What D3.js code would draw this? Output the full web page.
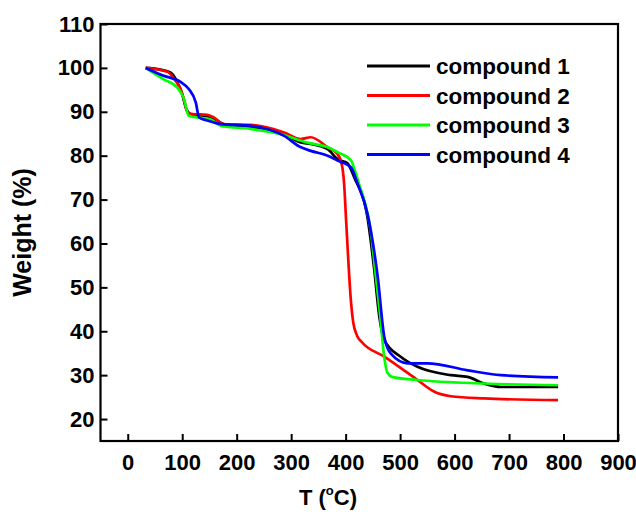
<!DOCTYPE html>
<html><head><meta charset="utf-8">
<script src="https://cdn.jsdelivr.net/npm/d3@7"></script>
<style>
body{margin:0;background:#fff}
text{font-family:Arial,"Liberation Sans",sans-serif;font-weight:bold;fill:#000}
</style>
</head><body>
<svg id="c" width="636" height="519"></svg>
<script>
const seriesNames = ["compound 1","compound 2","compound 3","compound 4"];
const seriesColors = ["#000000","#ff0000","#00ff00","#0000ff"];
const xTicks = [0,100,200,300,400,500,600,700,800,900];
const yTicks = [20,30,40,50,60,70,80,90,100,110];
const xDomain = [-50,900];
const yDomain = [15,110];

// [temperature °C, weight %]
const compound1 = [[33,100],[60,99.6],[79,98.9],[90,97],[100,94],[108,90.5],[118,89.3],[145,89],[160,88.3],[176,87.2],[226,86.4],[287,84.9],[318,83.0],[336,82.7],[367,81.5],[385,79.2],[403,78.3],[416,75],[440,66],[452,54.6],[462,43.2],[471,38],[501,34.2],[532,31.9],[593,30.0],[624,29.6],[654,28.1],[685,27.3],[790,27.3]];
const compound2 = [[33,100],[73,99.1],[88,97],[97,95.2],[103,92.9],[110,89.8],[119,89.5],[146,89.3],[158,88.7],[176,87.2],[226,87.0],[287,85.3],[318,83.8],[336,84.2],[367,81.9],[385,80.4],[393,78],[397,74],[401,65],[405,56],[409,48],[414,42],[421,39],[430,37.5],[471,34.2],[532,28.9],[563,26.2],[593,25.2],[654,24.7],[790,24.3]];
const compound3 = [[33,100],[66,97.4],[91,95.5],[103,93],[112,89.1],[128,88.7],[152,88.3],[171,86.8],[226,86.1],[287,84.7],[318,83.4],[336,82.8],[367,81.9],[385,80.8],[410,78.9],[416,77],[426,73],[436,69],[446,63],[455,53],[463,44],[471,34],[477,30.5],[485,29.6],[532,28.9],[654,28.1],[790,27.7]];
const compound4 = [[33,100],[66,98.2],[97,96.8],[112,95.2],[125,92.1],[131,88.7],[146,88],[171,87.2],[226,86.8],[287,84.5],[318,81.9],[336,81.1],[367,80.0],[385,78.9],[410,77.3],[422,73.6],[440,66.8],[459,52.3],[471,38.7],[483,34.9],[514,32.7],[550,32.7],[624,31.1],[685,30.0],[790,29.5]];
const seriesData = [compound1, compound2, compound3, compound4];

const svg = d3.select("#c");
const L = 100.5, R = 618, T = 24, B = 441;
const x = d3.scaleLinear().domain(xDomain).range([L, R]);
const y = d3.scaleLinear().domain(yDomain).range([B, T]);

svg.append("rect").attr("width",636).attr("height",519).attr("fill","#fff");

const line = d3.line().x(d=>x(d[0])).y(d=>y(d[1])).curve(d3.curveMonotoneX);
seriesData.forEach((s,i)=>{
  svg.append("path").datum(s).attr("d",line).attr("fill","none")
    .attr("stroke",seriesColors[i]).attr("stroke-width",2.7).attr("stroke-linejoin","round");
});

// axes
const xAxis = d3.axisBottom(x).tickValues(xTicks).tickSizeInner(-7).tickSizeOuter(0).tickPadding(13);
const yAxis = d3.axisLeft(y).tickValues(yTicks).tickSizeInner(-7).tickSizeOuter(0).tickPadding(6);
const gx = svg.append("g").attr("transform",`translate(0,${B})`).call(xAxis);
const gy = svg.append("g").attr("transform",`translate(${L},0)`).call(yAxis);
[gx,gy].forEach(g=>{
  g.select(".domain").remove();
  g.selectAll(".tick line").attr("stroke","#000").attr("stroke-width",2);
  g.selectAll(".tick text").attr("font-size",22).attr("font-family","Arial, 'Liberation Sans', sans-serif").attr("font-weight","bold");
});
gx.selectAll(".tick text").attr("dy","0.71em");
// frame
svg.append("rect").attr("x",L).attr("y",T).attr("width",R-L).attr("height",B-T)
  .attr("fill","none").attr("stroke","#000").attr("stroke-width",2.2);

// axis titles
svg.append("text").attr("transform",`translate(31,${(T+B)/2}) rotate(-90)`)
  .attr("text-anchor","middle").attr("font-size",25).text("Weight (%)");
const xt = svg.append("text").attr("x",328).attr("y",505).attr("text-anchor","middle").attr("font-size",22);
xt.append("tspan").text("T (");
xt.append("tspan").attr("font-size",13).attr("dy",-10).text("o");
xt.append("tspan").attr("dy",10).text("C)");

// legend
const lg = svg.append("g");
seriesNames.forEach((n,i)=>{
  const yy = 66 + i*29.5;
  lg.append("line").attr("x1",367).attr("x2",430).attr("y1",yy).attr("y2",yy)
    .attr("stroke",seriesColors[i]).attr("stroke-width",3);
  lg.append("text").attr("x",436).attr("y",yy+8).attr("font-size",22.5).text(n);
});
</script>
</body></html>
